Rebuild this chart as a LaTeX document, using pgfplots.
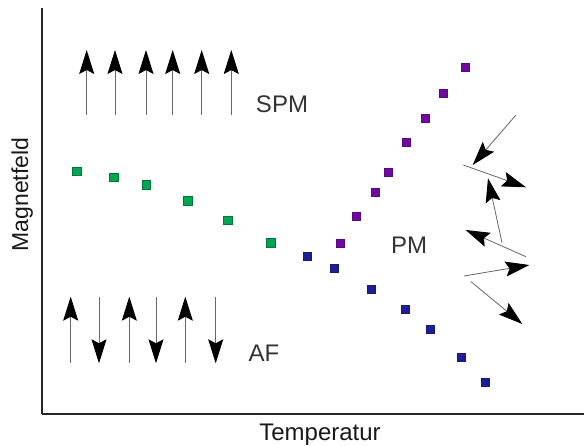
\documentclass[border=0pt]{standalone}
\usepackage{pgfplots}
\pgfplotsset{compat=1.18}
\usepackage{fontspec}
\setmainfont{Liberation Sans}
\usetikzlibrary{arrows.meta}
\definecolor{mgreen}{RGB}{0,166,81}
\definecolor{mblue}{RGB}{30,30,150}
\definecolor{mpurple}{RGB}{110,10,160}
\tikzset{arr/.style={line width=0.8pt, black!60, -{Stealth[length=24pt,width=15pt,inset=4pt,color=black]}}}
\begin{document}
\begin{tikzpicture}[x=1pt,y=1pt]
\begin{axis}[
  at={(42pt,31pt)}, anchor=south west,
  scale only axis, width=542pt, height=406pt,
  xmin=42, xmax=584, ymin=31, ymax=437,
  axis x line=bottom, axis y line=left,
  axis line style={-, line width=1.5pt, black!85},
  xtick=\empty, ytick=\empty,
  clip=false,
  xlabel={Temperatur}, ylabel={Magnetfeld},
  x label style={font=\fontsize{24}{28}\selectfont, text=black!90, at={(axis cs:320,5)}, anchor=base, inner sep=0pt},
  y label style={font=\fontsize{23}{27}\selectfont, text=black!90, at={(axis cs:28,250.5)}, anchor=base, rotate=0, inner sep=0pt},
]
\addplot[only marks, mark=square*, mark size=4.4pt, mark options={fill=mgreen, draw=mgreen!70!black, line width=0.5pt}]
 coordinates {(76.7,273.7) (113.7,267.7) (146.3,260) (187.7,244.3) (227.7,224.7) (271,202.3)};
\addplot[only marks, mark=square*, mark size=4pt, mark options={fill=mblue, draw=mblue!80!black, line width=0.4pt}]
 coordinates {(307.3,189) (333.7,177) (370.7,156) (405,136) (429.7,116.3) (461,87.7) (484.7,62.7)};
\addplot[only marks, mark=square*, mark size=4pt, mark options={fill=mpurple, draw=mpurple!80!black, line width=0.4pt}]
 coordinates {(340,201.7) (356,229) (374.7,253) (388,272.7) (405.7,302.7) (425,326.3) (443.3,351.7) (465,377.7)};
% SPM arrows
\draw[arr] (axis cs:86.7,330) -- (axis cs:86.7,395);
\draw[arr] (axis cs:115,330) -- (axis cs:115,395);
\draw[arr] (axis cs:146,330) -- (axis cs:146,395);
\draw[arr] (axis cs:172.7,330) -- (axis cs:172.7,395);
\draw[arr] (axis cs:201.7,330) -- (axis cs:201.7,395);
\draw[arr] (axis cs:231.3,330) -- (axis cs:231.3,395);
% AF arrows
\draw[arr] (axis cs:70.7,82.3) -- (axis cs:70.7,148.3);
\draw[arr] (axis cs:129.3,82.3) -- (axis cs:129.3,148.3);
\draw[arr] (axis cs:185.3,82.3) -- (axis cs:185.3,148.3);
\draw[arr] (axis cs:99,148.3) -- (axis cs:99,81.7);
\draw[arr] (axis cs:156,148.3) -- (axis cs:156,81.7);
\draw[arr] (axis cs:215.7,148.3) -- (axis cs:215.7,81.7);
% PM arrows
\draw[arr] (axis cs:515.7,329.7) -- (axis cs:472.7,280);
\draw[arr] (axis cs:463.3,280) -- (axis cs:526,257.7);
\draw[arr] (axis cs:502,202.3) -- (axis cs:488,266.7);
\draw[arr] (axis cs:526,188.3) -- (axis cs:465.7,215);
\draw[arr] (axis cs:464,169) -- (axis cs:529.3,180);
\draw[arr] (axis cs:471,163.3) -- (axis cs:522.3,121);
\node[font=\fontsize{24}{28}\selectfont, text=black!80, anchor=base, inner sep=0pt] at (axis cs:282,332) {SPM};
\node[font=\fontsize{24}{28}\selectfont, text=black!80, anchor=base, inner sep=0pt] at (axis cs:409,191.7) {PM};
\node[font=\fontsize{24}{28}\selectfont, text=black!80, anchor=base, inner sep=0pt] at (axis cs:264,83.3) {AF};
\end{axis}
\pgfresetboundingbox
\path[use as bounding box] (0,0) rectangle (584,445);
\end{tikzpicture}
\end{document}
